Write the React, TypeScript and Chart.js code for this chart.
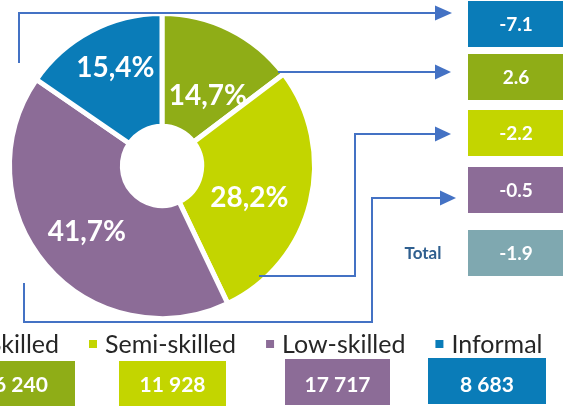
import React, { useEffect, useRef } from 'react';
import { Chart, registerables } from 'chart.js';

Chart.register(...registerables);

// ---- data ----
const categories = ['Skilled', 'Semi-skilled', 'Low-skilled', 'Informal'];
const shares = [14.7, 28.2, 41.7, 15.4];
const employment = [6240, 11928, 17717, 8683];
const changeLabels = ['Informal', 'Skilled', 'Semi-skilled', 'Low-skilled', 'Total'];
const changeValues = [-7.1, 2.6, -2.2, -0.5, -1.9];

// ---- styles ----
const sliceColors = ['#8fad17', '#c3d500', '#8c6c97', '#0a7cb8'];
const totalColor = '#7fa8b0';
const arrowColor = '#4472c4';
const FONT = 'Lato, "Open Sans", sans-serif';

const fmtPct = (v: number) => v.toFixed(1).replace('.', ',') + '%';
const fmtNum = (v: number) => String(v).replace(/\B(?=(\d{3})+(?!\d))/g, ' ');
const fmtChange = (v: number) => v.toFixed(1);

// label nudges relative to arc centre points
const labelNudge = [[3, 15], [-6, 8], [-2, 3], [-2, -14]];

function drawArrow(ctx: CanvasRenderingContext2D, pts: number[][], tipX: number) {
  ctx.save();
  ctx.strokeStyle = arrowColor;
  ctx.fillStyle = arrowColor;
  ctx.lineWidth = 2;
  ctx.beginPath();
  pts.forEach(([x, y], i) => (i === 0 ? ctx.moveTo(x, y) : ctx.lineTo(x, y)));
  ctx.stroke();
  const [bx, by] = pts[pts.length - 1];
  ctx.beginPath();
  ctx.moveTo(bx - 1, by - 7.5);
  ctx.lineTo(tipX, by);
  ctx.lineTo(bx - 1, by + 7.5);
  ctx.closePath();
  ctx.fill();
  ctx.restore();
}

const overlay = {
  id: 'overlay',
  afterDraw(chart: any) {
    const ctx: CanvasRenderingContext2D = chart.ctx;
    const meta = chart.getDatasetMeta(0);

    // percentage labels inside slices
    ctx.save();
    ctx.fillStyle = '#ffffff';
    ctx.font = `bold 28px ${FONT}`;
    ctx.textAlign = 'center';
    ctx.textBaseline = 'alphabetic';
    meta.data.forEach((arc: any, i: number) => {
      const p = arc.getCenterPoint();
      const [dx, dy] = labelNudge[i];
      ctx.fillText(fmtPct(shares[i]), p.x + dx, p.y + dy + 10);
    });
    ctx.restore();

    // connector arrows
    drawArrow(ctx, [[19, 63], [19, 13], [436, 13]], 452);
    drawArrow(ctx, [[278, 72], [436, 72]], 451);
    drawArrow(ctx, [[259, 276], [355, 276], [355, 134], [436, 134]], 451);
    drawArrow(ctx, [[24, 283], [24, 322], [372, 322], [372, 198], [441, 198]], 456);

    // change boxes on the right
    const rowTops = [1, 54, 110, 167, 230];
    ctx.save();
    changeLabels.forEach((lab, i) => {
      const ci = categories.indexOf(lab);
      ctx.fillStyle = ci >= 0 ? sliceColors[ci] : totalColor;
      ctx.fillRect(468, rowTops[i], 96, 46);
      ctx.fillStyle = '#ffffff';
      ctx.font = `bold 19px ${FONT}`;
      ctx.textAlign = 'center';
      ctx.textBaseline = 'alphabetic';
      ctx.fillText(fmtChange(changeValues[i]), 516, rowTops[i] + 23 + 7);
      if (ci < 0) {
        ctx.fillStyle = '#2f5f8f';
        ctx.font = `bold 17px ${FONT}`;
        ctx.fillText(lab, 423, rowTops[i] + 23 + 6);
      }
    });
    ctx.restore();

    // legend
    ctx.save();
    ctx.font = `25px ${FONT}`;
    ctx.textBaseline = 'alphabetic';
    ctx.textAlign = 'left';
    const gap = 30;
    let x = 89 - gap - 16 - ctx.measureText(categories[0]).width;
    categories.forEach((c, i) => {
      ctx.fillStyle = sliceColors[i];
      ctx.fillRect(x, 340, 8, 8);
      ctx.fillStyle = '#262626';
      ctx.fillText(c, x + 16, 353);
      x += 16 + ctx.measureText(c).width + gap;
    });
    ctx.restore();

    // employment boxes
    const boxes = [[-33, 361, 108, 46], [119, 361, 107, 46], [285, 359, 105, 46], [428, 358, 118, 46]];
    ctx.save();
    ctx.font = `bold 21px ${FONT}`;
    ctx.textAlign = 'center';
    ctx.textBaseline = 'alphabetic';
    employment.forEach((v, i) => {
      const [bx, by, bw, bh] = boxes[i];
      ctx.fillStyle = sliceColors[i];
      ctx.fillRect(bx, by, bw, bh);
      ctx.fillStyle = '#ffffff';
      ctx.fillText(fmtNum(v), bx + bw / 2, 391.5);
    });
    ctx.restore();
  },
};

export default function App() {
  const ref = useRef<HTMLCanvasElement | null>(null);
  useEffect(() => {
    if (!ref.current) return;
    const chart = new Chart(ref.current, {
      type: 'doughnut',
      data: {
        labels: categories,
        datasets: [
          {
            data: shares,
            backgroundColor: sliceColors,
            borderColor: '#ffffff',
            borderWidth: 5,
          },
        ],
      },
      options: {
        responsive: false,
        animation: false,
        cutout: '26%',
        layout: { padding: { left: 7, top: 11, right: 246, bottom: 85 } },
        plugins: { legend: { display: false }, tooltip: { enabled: false } },
      },
      plugins: [overlay],
    });
    return () => chart.destroy();
  }, []);
  return (
    <div style={{ position: 'fixed', left: 0, top: 0, width: 563, height: 406, overflow: 'hidden', background: '#fff' }}>
      <canvas ref={ref} width={563} height={406} style={{ width: 563, height: 406, display: 'block' }} />
    </div>
  );
}
